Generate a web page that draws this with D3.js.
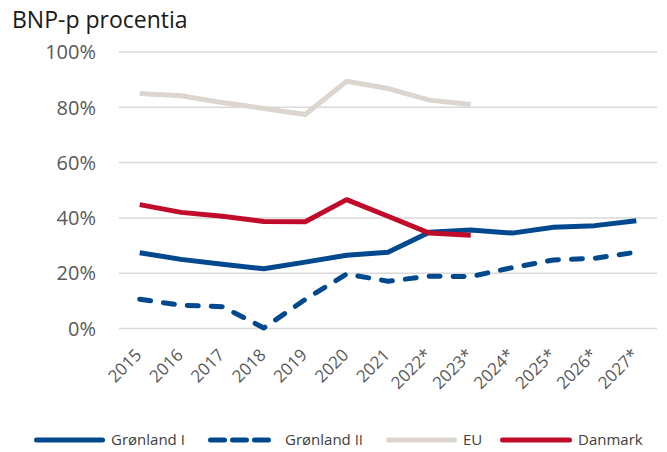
<!DOCTYPE html>
<html>
<head>
<meta charset="utf-8">
<script src="https://cdn.jsdelivr.net/npm/d3@7"></script>
<style>
  body { margin: 0; background: #fff; }
  svg { font-family: "Open Sans", "Noto Sans", sans-serif; }
</style>
</head>
<body>
<svg id="chart" width="667" height="452"></svg>
<script>
// data
const years = ["2015","2016","2017","2018","2019","2020","2021","2022*","2023*","2024*","2025*","2026*","2027*"];
const gronland1 = [27.4, 25.0, 23.2, 21.6, 24.0, 26.5, 27.6, 34.8, 35.6, 34.5, 36.6, 37.2, 39.0];
const gronland2 = [10.6, 8.4, 7.9, 0.2, 10.5, 19.7, 17.1, 18.9, 18.8, 22.0, 24.8, 25.4, 27.6];
const eu = [85.0, 84.2, 81.7, 79.6, 77.4, 89.4, 86.8, 82.6, 81.0];
const danmark = [44.8, 42.0, 40.6, 38.7, 38.6, 46.6, 40.6, 34.5, 33.7];
const yTicks = [0, 20, 40, 60, 80, 100];

const series = [
    {name: "Grønland I", values: gronland1, color: "#00498F", dash: null},
    {name: "Grønland II", values: gronland2, color: "#00498F", dash: "11,13"},
    {name: "EU", values: eu, color: "#DCD6CE", dash: null},
    {name: "Danmark", values: danmark, color: "#C10B2B", dash: null}
];

const svg = d3.select("#chart");
const plotLeft = 119, plotRight = 657, plotTop = 52, plotBottom = 328.5;

let x = d3.scaleBand().domain(years).range([plotLeft, plotRight]);
let y = d3.scaleLinear().domain([0, 100]).range([plotBottom, plotTop]);

svg.append("text")
    .attr("x", 12).attr("y", 28)
    .attr("font-size", 23).attr("fill", "#1a1a1a")
    .text("BNP-p procentia");

// grid + y labels
let grid = svg.append("g");
grid.selectAll("line").data(yTicks).enter().append("line")
    .attr("x1", plotLeft).attr("x2", plotRight)
    .attr("y1", d => y(d)).attr("y2", d => y(d))
    .attr("stroke", "#D9D9D9").attr("stroke-width", 1.5);
grid.selectAll("text").data(yTicks).enter().append("text")
    .attr("x", 96).attr("y", d => y(d)).attr("dy", "0.36em")
    .attr("text-anchor", "end").attr("font-size", 20).attr("fill", "#595959")
    .text(d => d + "%");

// x labels, rotated
svg.append("g").selectAll("text").data(years).enter().append("text")
    .attr("transform", d => "translate(" + (x(d) + x.bandwidth() / 2 + 3) + ",356) rotate(-45)")
    .attr("text-anchor", "end").attr("font-size", 17).attr("fill", "#595959")
    .text(d => d);

let line = d3.line()
    .x((d, i) => x(years[i]) + x.bandwidth() / 2)
    .y(d => y(d));

svg.append("g").selectAll("path").data(series).enter().append("path")
    .attr("d", d => line(d.values))
    .attr("fill", "none")
    .attr("stroke", d => d.color)
    .attr("stroke-width", 5)
    .attr("stroke-linecap", d => d.dash ? "round" : "butt")
    .attr("stroke-linejoin", "round")
    .attr("stroke-dasharray", d => d.dash);

// legend
const legendX = [34, 208, 386, 500];
const legendW = [71, 63, 71, 72];
let lg = svg.append("g").selectAll("g").data(series).enter().append("g")
    .attr("transform", (d, i) => "translate(" + legendX[i] + ",440)");
lg.append("line")
    .attr("x1", 2.5).attr("x2", (d, i) => legendW[i] - 2.5).attr("y1", 0).attr("y2", 0)
    .attr("stroke", d => d.color).attr("stroke-width", 5)
    .attr("stroke-linecap", "round")
    .attr("stroke-dasharray", d => d.dash ? "14,8" : null);
lg.append("text")
    .attr("x", (d, i) => legendW[i] + (i == 1 ? 14 : 6)).attr("y", 0).attr("dy", "0.36em")
    .attr("font-size", 15).attr("fill", "#404040")
    .text(d => d.name);
</script>
</body>
</html>
